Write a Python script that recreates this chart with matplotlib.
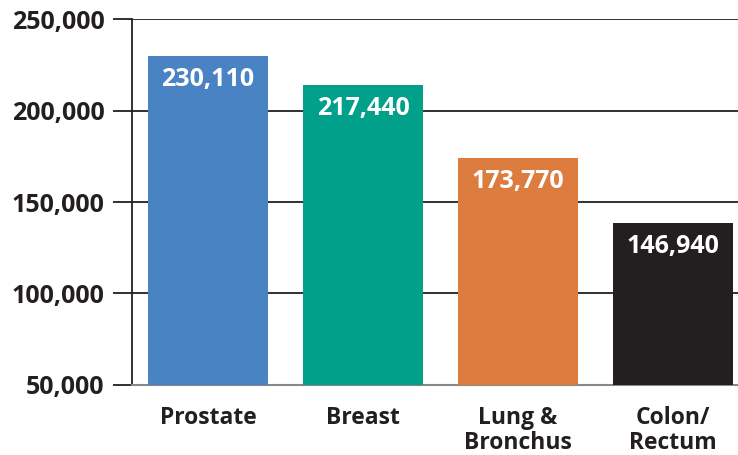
import matplotlib.pyplot as plt
from matplotlib.ticker import FuncFormatter

# data
sites = ["Prostate", "Breast", "Lung &\nBronchus", "Colon/\nRectum"]
case_labels = [230110, 217440, 173770, 146940]
# bar heights as drawn in the picture (not exactly to the labelled values)
bar_heights = [230000, 214000, 174000, 138500]
colors = ["#4A83C4", "#00A08B", "#DC7D3F", "#231F20"]
yticks = [50000, 100000, 150000, 200000, 250000]

plt.rcParams["font.family"] = ["Open Sans", "DejaVu Sans"]

fig = plt.figure(figsize=(7.38, 4.55), dpi=100)
ax = fig.add_axes([0.179, 0.154, 0.821, 0.804])

x = range(len(sites))
ax.bar(x, bar_heights, width=0.774, color=colors, zorder=3)

for xi, h, v in zip(x, bar_heights, case_labels):
    ax.text(xi, h - 6000, f"{v:,}", ha="center", va="top", color="white",
            fontsize=18, fontweight="bold", zorder=4)

ax.set_ylim(50000, 250000)
ax.set_xlim(-0.49, 3.42)
ax.set_yticks(yticks)
ax.yaxis.set_major_formatter(FuncFormatter(lambda v, p: f"{int(v):,}"))
ax.grid(axis="y", color="#231F20", linewidth=1.3, zorder=0)

ax.set_xticks(list(x))
ax.set_xticklabels(sites, fontsize=16.5, fontweight="bold", color="#231F20",
                   linespacing=1.08)
ax.tick_params(axis="x", length=0, pad=15)
ax.tick_params(axis="y", length=14, width=1.3, color="#231F20", pad=6,
               labelsize=18, labelcolor="#231F20")
for lab in ax.get_yticklabels():
    lab.set_fontweight("bold")

for s in ["top", "right"]:
    ax.spines[s].set_visible(False)
ax.spines["left"].set_color("#231F20")
ax.spines["left"].set_linewidth(1.3)
ax.spines["bottom"].set_color("#888888")
ax.spines["bottom"].set_linewidth(1.5)

fig.savefig("out.png", dpi=100)
